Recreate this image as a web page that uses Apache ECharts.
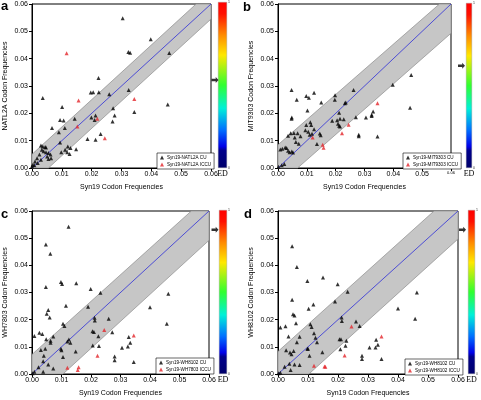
<!DOCTYPE html>
<html><head><meta charset="utf-8">
<script src="https://cdn.jsdelivr.net/npm/echarts@6/dist/echarts.min.js"></script>
<style>html,body{margin:0;padding:0;background:#fff}#c{width:481px;height:400px}</style>
</head><body><div id="c"></div>
<script>
// ---------- data ----------
const axisMin = 0, axisMax = 0.06, axisStep = 0.01;
const tickLabels = ['0.00','0.01','0.02','0.03','0.04','0.05','0.06'];
const panelLetters = ['a','b','c','d'];
const xName = 'Syn19 Codon Frequencies';
const yNames = ['NATL2A Codon Frequencies','MIT9303 Codon Frequencies','WH7803 Codon Frequencies','WH8102 Codon Frequencies'];
const cuNames = ['Syn19-NATL2A CU','Syn19-MIT9303 CU','Syn19-WH8102 CU','Syn19-WH8102 CU'];
const iccuNames = ['Syn19-NATL2A ICCU','Syn19-MIT9303 ICCU','Syn19-WH7803 ICCU','Syn19-WH8102 ICCU'];
const diagonal = [[0,0],[0.06,0.06]];

const bandA = [[0,0],[0,0.005],[0.055,0.06],[0.06,0.06],[0.06,0.0545],[0.0055,0]];
const bandB = [[0,0],[0,0.0085],[0.056,0.06],[0.06,0.06],[0.06,0.0493],[0.0068,0]];
const bandC = [[0,0],[0,0.0072],[0.054,0.06],[0.06,0.06],[0.06,0.0492],[0.0105,0]];
const bandD = [[0,0],[0,0.0083],[0.052,0.06],[0.06,0.06],[0.06,0.0497],[0.0103,0]];

const cuA = [[0.0304,0.0548],[0.0398,0.0471],[0.0323,0.0424],[0.0329,0.0422],[0.046,0.0421],[0.0455,0.0232],
 [0.0036,0.0256],[0.0223,0.0329],[0.0197,0.0276],[0.0205,0.0277],[0.0224,0.0277],[0.0259,0.027],[0.0324,0.0285],
 [0.0101,0.0223],[0.0272,0.0219],[0.0277,0.0192],[0.027,0.017],[0.0343,0.0205],[0.0199,0.0185],[0.021,0.0176],[0.0213,0.0192],
 [0.0143,0.018],[0.0094,0.0176],[0.0106,0.0174],[0.0067,0.0146],[0.011,0.0146],[0.009,0.0131],
 [0.023,0.0124],[0.0186,0.0106],[0.0213,0.0103],[0.0094,0.0093],[0.0148,0.0069],[0.012,0.0079],[0.0129,0.0073],[0.0111,0.0067],[0.0118,0.0058],[0.0126,0.0051],[0.0098,0.0058],
 [0.003,0.0082],[0.0036,0.0079],[0.0044,0.0077],[0.0047,0.0075],[0.0033,0.0067],[0.0039,0.0061],[0.0047,0.0058],[0.0055,0.0055],[0.0062,0.0049],[0.0051,0.0042],[0.0064,0.0036],[0.0055,0.0033],[0.0025,0.0049],[0.0017,0.0036],[0.003,0.003],[0.001,0.0024],[0.0019,0.0018],[0.0003,0.0012],[0.0,0.0006],[0.0008,0.001]];
const iccuA = [[0.0116,0.042],[0.0156,0.0247],[0.0152,0.0152],[0.0219,0.018],[0.0244,0.0109],[0.0343,0.0252]];

const cuB = [[0.0047,0.0285],[0.0065,0.025],[0.0098,0.0263],[0.0107,0.0257],[0.0125,0.0275],[0.015,0.024],[0.0102,0.021],
 [0.0048,0.0185],[0.0047,0.018],[0.0035,0.0118],[0.0044,0.0127],[0.0055,0.0128],[0.0068,0.0127],[0.0058,0.0112],[0.0078,0.0116],
 [0.0062,0.0095],[0.0072,0.0089],[0.0025,0.0075],[0.003,0.0073],[0.0035,0.0063],[0.004,0.0058],[0.0048,0.006],[0.0052,0.0057],
 [0.0008,0.0068],[0.0015,0.007],[0.0022,0.0015],[0.0013,0.001],[0.0002,0.0005],
 [0.0095,0.0138],[0.0098,0.0157],[0.0105,0.0133],[0.011,0.0122],[0.0112,0.0167],[0.0115,0.0157],[0.0125,0.0142],[0.0118,0.0125],
 [0.0145,0.0126],[0.0148,0.012],[0.0135,0.0088],[0.0198,0.0266],[0.0197,0.025],
 [0.0215,0.018],[0.0205,0.0175],[0.0208,0.0162],[0.0212,0.0155],[0.0215,0.0152],[0.0188,0.0173],[0.0228,0.0178],
 [0.0232,0.0237],[0.0235,0.024],[0.0212,0.0202],[0.0262,0.0285],[0.027,0.0186],[0.028,0.0122],[0.028,0.0116],
 [0.0305,0.0185],[0.0325,0.019],[0.0325,0.0195],[0.033,0.0207],[0.0345,0.0115],[0.0398,0.0305],[0.0458,0.022],[0.0462,0.034]];
const iccuB = [[0.012,0.0112],[0.0155,0.0085],[0.0158,0.0074],[0.0222,0.0127],[0.0245,0.0158],[0.0345,0.0237]];

const cuC = [[0.0124,0.0542],[0.0047,0.0477],[0.0062,0.0443],[0.0098,0.0339],[0.0102,0.0331],[0.015,0.0334],[0.0047,0.032],
 [0.0199,0.0313],[0.0232,0.0299],[0.0115,0.0251],[0.019,0.0248],[0.0055,0.0236],[0.005,0.0222],[0.006,0.0208],
 [0.0105,0.0185],[0.011,0.0177],[0.0212,0.0207],[0.0213,0.0197],[0.026,0.0203],[0.0205,0.0157],[0.021,0.0155],
 [0.0272,0.0154],[0.0225,0.0139],[0.0206,0.0105],[0.0227,0.0103],[0.0008,0.014],[0.0025,0.0152],[0.0035,0.0147],
 [0.0048,0.0128],[0.0063,0.0122],[0.0063,0.0115],[0.0072,0.0138],[0.012,0.012],[0.0125,0.0127],[0.013,0.0115],
 [0.0098,0.0093],[0.01,0.0087],[0.0105,0.0063],[0.0148,0.0083],[0.003,0.0088],[0.0045,0.0093],[0.004,0.0067],[0.0038,0.0047],
 [0.0055,0.0035],[0.0022,0.0025],[0.0008,0.0008],[0.0002,0.0003],[0.0038,0.0008],[0.0072,0.002],
 [0.028,0.0064],[0.028,0.0051],[0.0305,0.0097],[0.0325,0.0101],[0.0328,0.0136],[0.0333,0.0115],[0.0345,0.0044],
 [0.04,0.0246],[0.0457,0.0185],[0.0462,0.0295]];
const iccuC = [[0.012,0.0023],[0.0155,0.0015],[0.0158,0.0025],[0.0222,0.0067],[0.0245,0.0162],[0.0345,0.0142]];

const cuD = [[0.0047,0.047],[0.0063,0.0394],[0.0098,0.0342],[0.015,0.0355],[0.0199,0.033],[0.0232,0.0303],[0.019,0.0267],
 [0.0047,0.0273],[0.0102,0.024],[0.0118,0.0256],[0.005,0.022],[0.0055,0.0215],[0.006,0.0187],[0.0008,0.0171],[0.0025,0.0176],
 [0.0108,0.0183],[0.0112,0.0173],[0.0212,0.0208],[0.0213,0.0195],[0.026,0.0193],[0.0272,0.0177],
 [0.012,0.015],[0.0125,0.0133],[0.013,0.0117],[0.0072,0.0137],[0.0035,0.0138],[0.0063,0.0117],
 [0.0045,0.0073],[0.004,0.0079],[0.0052,0.0085],[0.0027,0.0087],[0.0098,0.0093],[0.01,0.0093],[0.0105,0.0067],[0.0148,0.008],
 [0.0205,0.0128],[0.021,0.0128],[0.0228,0.0122],[0.0225,0.0104],[0.0208,0.0091],[0.0038,0.0038],[0.0042,0.0015],
 [0.0055,0.0035],[0.0022,0.0027],[0.0008,0.0005],[0.0002,0.0003],[0.0072,0.0033],[0.028,0.0067],[0.028,0.0055],
 [0.0305,0.0098],[0.0325,0.0098],[0.0327,0.0126],[0.0333,0.0108],[0.0345,0.0055],[0.04,0.0241],[0.0457,0.0203],[0.0463,0.03]];
const iccuD = [[0.012,0.003],[0.0155,0.0028],[0.0158,0.0027],[0.0222,0.0068],[0.0245,0.0175],[0.0345,0.0138]];

const edRange = [0, 1];
const edLabels = ['0','1'];
const edValues = [0.53, 0.62, 0.88, 0.88];

// ---------- layout ----------
const FONT = '"Liberation Sans", Arial, sans-serif';
const grids = [
  {left:32, top:4, width:179, height:164},
  {left:278, top:4, width:173, height:164},
  {left:32, top:211, width:177, height:163},
  {left:278, top:211, width:180, height:163}
];
const barGrids = [
  {left:218, top:2, width:9, height:166},
  {left:466, top:3, width:6, height:165},
  {left:219, top:210, width:8, height:164},
  {left:468, top:210, width:9, height:164}
];
const arrowOffsets = [-7.5, -7.5, -8, -9];
const legendPos = [
  {left:157, top:153}, {left:403, top:153}, {left:156, top:358}, {left:405, top:359}
];
const letterPos = [{left:1,top:0},{left:243,top:1},{left:1,top:208},{left:244,top:208}];
const bands = [bandA, bandB, bandC, bandD];
const cus = [cuA, cuB, cuC, cuD];
const iccus = [iccuA, iccuB, iccuC, iccuD];

const gradient = new echarts.graphic.LinearGradient(0, 0, 0, 1, [
  {offset:0, color:'#ff0000'}, {offset:0.07, color:'#ff1000'}, {offset:0.2, color:'#ff8c00'},
  {offset:0.32, color:'#ffe800'}, {offset:0.5, color:'#30ff30'}, {offset:0.64, color:'#00f0d8'},
  {offset:0.77, color:'#0070ff'}, {offset:0.87, color:'#0000e8'}, {offset:0.895, color:'#00008c'},
  {offset:1, color:'#00006a'}
]);

const option = {
  backgroundColor:'#fff',
  animation:false,
  title: panelLetters.map((t,i)=>({text:t, left:letterPos[i].left, top:letterPos[i].top, padding:0,
    textStyle:{fontSize:13, fontWeight:'bold', fontFamily:FONT, color:'#000'}})),
  grid: grids.map(g=>Object.assign({show:true, borderColor:'#000', borderWidth:1, backgroundColor:'transparent'}, g))
        .concat(barGrids.map(g=>Object.assign({}, g))),
  legend: legendPos.map((p,i)=>({
    left:p.left, top:p.top, orient:'vertical', data:[cuNames[i], iccuNames[i]],
    icon:'triangle', itemWidth:4, itemHeight:4, itemGap:2, padding:[2,3,2,3],
    backgroundColor:'#fff', borderColor:'#000', borderWidth:0.6,
    textStyle:{fontSize:4.6, fontFamily:FONT, color:'#000', padding:[0,0,0,-2]}, selectedMode:false
  })),
  xAxis: grids.map((g,i)=>({
    gridIndex:i, type:'value', min:axisMin, max:axisMax, interval:axisStep,
    name:xName, nameLocation:'middle', nameGap:16,
    nameTextStyle:{fontSize:7, fontFamily:FONT, color:'#000'},
    axisLine:{lineStyle:{color:'#000', width:1}},
    axisTick:{length:3, lineStyle:{color:'#000'}},
    splitLine:{show:false},
    axisLabel:{fontSize:7, fontFamily:FONT, color:'#000', margin:3,
      formatter:(v)=>{const k=Math.round(v/axisStep); const s=tickLabels[k]; return (i===1 && k===6) ? '{s|'+s+'}' : s;},
      rich:{s:{fontSize:4, fontFamily:FONT, color:'#000'}}}
  })).concat(barGrids.map((g,i)=>({
    gridIndex:4+i, type:'category', data:['ED'], name:'ED', nameLocation:'middle', nameGap:2,
    nameTextStyle:{fontSize:8, fontFamily:'"Liberation Serif", "DejaVu Serif", serif', color:'#000', verticalAlign:'top'},
    axisLine:{show:false}, axisTick:{show:false}, axisLabel:{show:false}, splitLine:{show:false}
  }))),
  yAxis: grids.map((g,i)=>({
    gridIndex:i, type:'value', min:axisMin, max:axisMax, interval:axisStep,
    name:yNames[i], nameLocation:'middle', nameGap:23,
    nameTextStyle:{fontSize:7, fontFamily:FONT, color:'#000'},
    axisLine:{lineStyle:{color:'#000', width:1}},
    axisTick:{length:3, lineStyle:{color:'#000'}},
    splitLine:{show:false},
    axisLabel:{fontSize:7, fontFamily:FONT, color:'#000', margin:4,
      formatter:(v)=>tickLabels[Math.round(v/axisStep)]}
  })).concat(barGrids.map((g,i)=>({
    gridIndex:4+i, type:'value', min:edRange[0], max:edRange[1], interval:1, position:'right',
    axisLine:{show:false}, axisTick:{show:false}, splitLine:{show:false},
    axisLabel:{fontSize:3.5, fontFamily:FONT, color:'#333', margin:1, formatter:(v)=>edLabels[v]}
  }))),
  series: []
};

grids.forEach((g,i)=>{
  const verts = bands[i];
  option.series.push({
    type:'custom', xAxisIndex:i, yAxisIndex:i, data:[[0,0]], silent:true, z:1,
    renderItem:(params, api)=>({type:'polygon', shape:{points:verts.map(v=>api.coord(v))},
      style:{fill:'#c6c6c6', stroke:'#8c8c8c', lineWidth:0.7}})
  });
  option.series.push({
    type:'line', xAxisIndex:i, yAxisIndex:i, data:diagonal, showSymbol:false, silent:true, z:2,
    lineStyle:{color:'#3f3fd6', width:0.9}
  });
  option.series.push({
    type:'scatter', name:cuNames[i], xAxisIndex:i, yAxisIndex:i, data:cus[i], symbol:'triangle',
    symbolSize:4, itemStyle:{color:'#000'}, z:3
  });
  option.series.push({
    type:'scatter', name:iccuNames[i], xAxisIndex:i, yAxisIndex:i, data:iccus[i], symbol:'triangle',
    symbolSize:4, itemStyle:{color:'#e3262b'}, z:4
  });
});
barGrids.forEach((g,i)=>{
  option.series.push({
    type:'bar', xAxisIndex:4+i, yAxisIndex:4+i, data:[edRange[1]], barWidth:'100%', silent:true,
    itemStyle:{color:gradient, borderColor:'#9a9a9a', borderWidth:0.4}
  });
  option.series.push({
    type:'scatter', xAxisIndex:4+i, yAxisIndex:4+i, data:[[0, edValues[i]]], silent:true, z:5,
    symbol:'path://M0,3 L6,3 L6,0 L10,5 L6,10 L6,7 L0,7 Z', symbolSize:[7,6],
    symbolOffset:[arrowOffsets[i],0], itemStyle:{color:'#000'}
  });
});

const chart = echarts.init(document.getElementById('c'), null, {renderer:'canvas'});
chart.setOption(option);
</script></body></html>
